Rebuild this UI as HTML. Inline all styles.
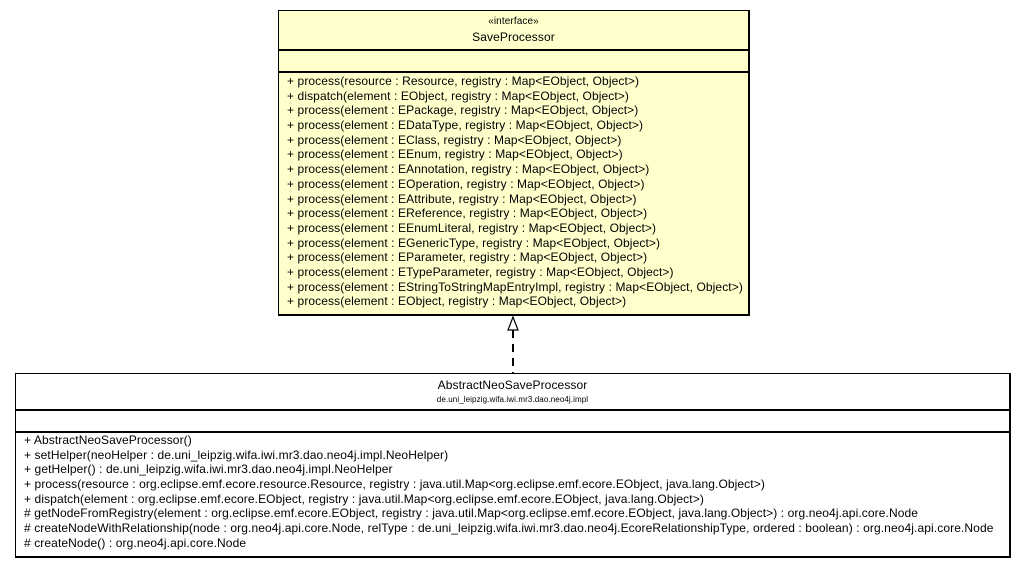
<!DOCTYPE html>
<html><head><meta charset="utf-8"><style>
body{margin:0;width:1027px;height:568px;background:#fff;position:relative;font-family:"Liberation Sans",Arial,sans-serif;font-size:12px;letter-spacing:0.1px;color:#000;overflow:hidden}
.box{position:absolute;border:1px solid #000;box-sizing:border-box}
.hl{position:absolute;left:0;right:0;height:0;border-top:2px solid #000}
.t{position:absolute;white-space:nowrap;line-height:14px}
.c{left:0;right:0;text-align:center}
.m div{height:14.7px;line-height:14.7px;white-space:nowrap}
</style></head><body>
<div class="box" style="left:278px;top:10px;width:472px;height:306px;background:#ffffcc;border-width:1px 2px 2px 1px">
  <div class="t c" style="top:4px;font-size:10px">«interface»</div>
  <div class="t c" style="top:19px">SaveProcessor</div>
  <div class="hl" style="top:38px"></div>
  <div class="hl" style="top:60px"></div>
  <div class="m t" style="left:8px;top:63px">
<div>+ process(resource : Resource, registry : Map&lt;EObject, Object&gt;)</div>
<div>+ dispatch(element : EObject, registry : Map&lt;EObject, Object&gt;)</div>
<div>+ process(element : EPackage, registry : Map&lt;EObject, Object&gt;)</div>
<div>+ process(element : EDataType, registry : Map&lt;EObject, Object&gt;)</div>
<div>+ process(element : EClass, registry : Map&lt;EObject, Object&gt;)</div>
<div>+ process(element : EEnum, registry : Map&lt;EObject, Object&gt;)</div>
<div>+ process(element : EAnnotation, registry : Map&lt;EObject, Object&gt;)</div>
<div>+ process(element : EOperation, registry : Map&lt;EObject, Object&gt;)</div>
<div>+ process(element : EAttribute, registry : Map&lt;EObject, Object&gt;)</div>
<div>+ process(element : EReference, registry : Map&lt;EObject, Object&gt;)</div>
<div>+ process(element : EEnumLiteral, registry : Map&lt;EObject, Object&gt;)</div>
<div>+ process(element : EGenericType, registry : Map&lt;EObject, Object&gt;)</div>
<div>+ process(element : EParameter, registry : Map&lt;EObject, Object&gt;)</div>
<div>+ process(element : ETypeParameter, registry : Map&lt;EObject, Object&gt;)</div>
<div>+ process(element : EStringToStringMapEntryImpl, registry : Map&lt;EObject, Object&gt;)</div>
<div>+ process(element : EObject, registry : Map&lt;EObject, Object&gt;)</div>
  </div>
</div>
<svg style="position:absolute;left:0;top:0" width="1027" height="568">
  <line x1="513" y1="330" x2="513" y2="373" stroke="#000" stroke-width="2" stroke-dasharray="8,6"/>
  <polygon points="513,317 508,330 518,330" fill="#fff" stroke="#000" stroke-width="1.2"/>
</svg>
<div class="box" style="left:15px;top:373px;width:996px;height:185px;background:#fff;border-width:1px 2px 2px 1px">
  <div class="t c" style="top:4px">AbstractNeoSaveProcessor</div>
  <div class="t c" style="top:19px;font-size:8px;letter-spacing:0.1px">de.uni_leipzig.wifa.iwi.mr3.dao.neo4j.impl</div>
  <div class="hl" style="top:35px"></div>
  <div class="hl" style="top:57px"></div>
  <div class="m t" style="left:8px;top:59px">
<div>+ AbstractNeoSaveProcessor()</div>
<div>+ setHelper(neoHelper : de.uni_leipzig.wifa.iwi.mr3.dao.neo4j.impl.NeoHelper)</div>
<div>+ getHelper() : de.uni_leipzig.wifa.iwi.mr3.dao.neo4j.impl.NeoHelper</div>
<div>+ process(resource : org.eclipse.emf.ecore.resource.Resource, registry : java.util.Map&lt;org.eclipse.emf.ecore.EObject, java.lang.Object&gt;)</div>
<div>+ dispatch(element : org.eclipse.emf.ecore.EObject, registry : java.util.Map&lt;org.eclipse.emf.ecore.EObject, java.lang.Object&gt;)</div>
<div># getNodeFromRegistry(element : org.eclipse.emf.ecore.EObject, registry : java.util.Map&lt;org.eclipse.emf.ecore.EObject, java.lang.Object&gt;) : org.neo4j.api.core.Node</div>
<div># createNodeWithRelationship(node : org.neo4j.api.core.Node, relType : de.uni_leipzig.wifa.iwi.mr3.dao.neo4j.EcoreRelationshipType, ordered : boolean) : org.neo4j.api.core.Node</div>
<div># createNode() : org.neo4j.api.core.Node</div>
  </div>
</div>
</body></html>
